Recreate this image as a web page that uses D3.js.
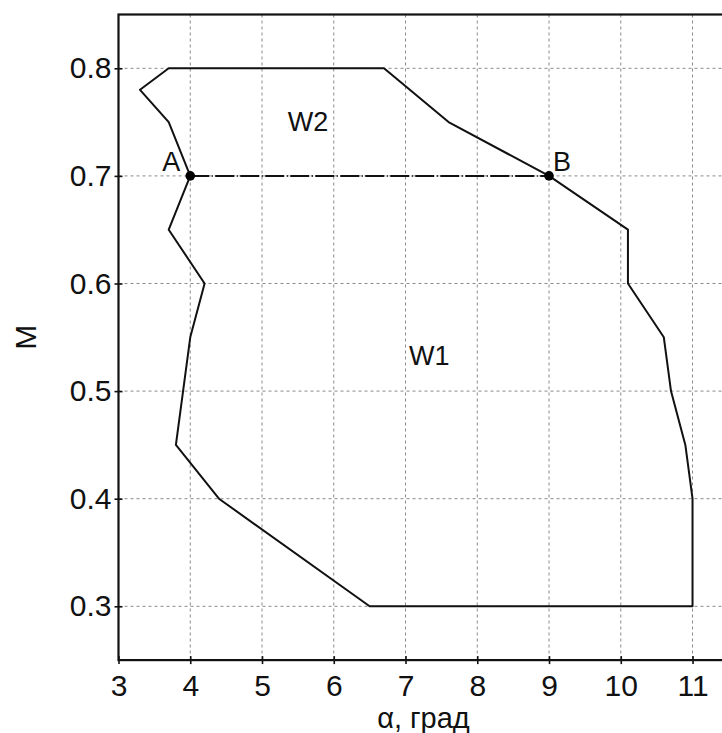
<!DOCTYPE html>
<html>
<head>
<meta charset="utf-8">
<script src="https://cdn.jsdelivr.net/npm/d3@7"></script>
<style>
  html, body { margin: 0; padding: 0; background: #fff; overflow: hidden; }
  svg { display: block; }
  text { font-family: "Liberation Sans", Arial, sans-serif; fill: #111; }
</style>
</head>
<body>
<svg id="chart" width="722" height="733"></svg>
<script>
// Boundary of the operating region (alpha in degrees, M)
const boundaryAlpha = [3.7, 6.7, 7.6, 9.0, 10.1, 10.1, 10.6, 10.7, 10.9, 11.0, 11.0, 6.5, 4.4, 3.8, 4.0, 4.2, 3.7, 4.0, 3.7, 3.3];
const boundaryM     = [0.8, 0.8, 0.75, 0.7, 0.65, 0.6, 0.55, 0.5, 0.45, 0.4, 0.3, 0.3, 0.4, 0.45, 0.55, 0.6, 0.65, 0.7, 0.75, 0.78];

// Points A and B joined by the dashed line at M = 0.7
const pointNames = ["A", "B"];
const pointAlpha = [4, 9];
const pointM = [0.7, 0.7];

// Region labels
const regionNames = ["W2", "W1"];
const regionAlpha = [5.64, 7.33];
const regionM = [0.75, 0.533];

const xTicks = [3, 4, 5, 6, 7, 8, 9, 10, 11];
const yTicks = [0.3, 0.4, 0.5, 0.6, 0.7, 0.8];
const xTitle = "α, град";
const yTitle = "M";

const svg = d3.select("#chart");
const x = d3.scaleLinear().domain([3, 11.5]).range([118.5, 728.4]);
const y = d3.scaleLinear().domain([0.25, 0.85]).range([660.1, 14.5]);
const [x0, x1] = x.range();
const [yb, yt] = y.range();

// grid
const grid = svg.append("g").attr("stroke", "#8a8a8a").attr("stroke-width", 1).attr("stroke-dasharray", "3,3");
grid.selectAll("line.v").data(xTicks.filter(d => d > 3)).join("line")
  .attr("x1", d => x(d)).attr("x2", d => x(d)).attr("y1", yt).attr("y2", yb);
grid.selectAll("line.h").data(yTicks).join("line")
  .attr("y1", d => y(d)).attr("y2", d => y(d)).attr("x1", x0).attr("x2", x1);

// region boundary
const pts = boundaryAlpha.map((a, i) => [x(a), y(boundaryM[i])]);
svg.append("path")
  .attr("d", d3.line().curve(d3.curveLinearClosed)(pts))
  .attr("fill", "none").attr("stroke", "#111").attr("stroke-width", 2)
  .attr("stroke-linejoin", "round");

// dashed line A-B
svg.append("line")
  .attr("x1", x(pointAlpha[0])).attr("x2", x(pointAlpha[1]))
  .attr("y1", y(pointM[0])).attr("y2", y(pointM[1]))
  .attr("stroke", "#111").attr("stroke-width", 2)
  .attr("stroke-dasharray", "19,2.5,1,2.5");

svg.selectAll("circle.pt").data(pointNames).join("circle")
  .attr("cx", (d, i) => x(pointAlpha[i])).attr("cy", (d, i) => y(pointM[i]))
  .attr("r", 4.8).attr("fill", "#000");

svg.selectAll("text.pt").data(pointNames).join("text")
  .attr("x", (d, i) => x(pointAlpha[i]) + (i === 0 ? -19 : 13))
  .attr("y", (d, i) => y(pointM[i]) - 5)
  .attr("text-anchor", "middle")
  .attr("font-size", 27)
  .text(d => d);

svg.selectAll("text.reg").data(regionNames).join("text")
  .attr("x", (d, i) => x(regionAlpha[i]))
  .attr("y", (d, i) => y(regionM[i]))
  .attr("text-anchor", "middle")
  .attr("dominant-baseline", "central")
  .attr("font-size", 27)
  .text(d => d);

// axes
const xAxis = svg.append("g").attr("transform", `translate(0,${yb})`)
  .call(d3.axisBottom(x).tickValues(xTicks).tickFormat(d3.format("d")).tickSize(4).tickPadding(11));
const yAxis = svg.append("g").attr("transform", `translate(${x0},0)`)
  .call(d3.axisLeft(y).tickValues(yTicks).tickFormat(d3.format(".1f")).tickSize(4).tickPadding(3));
[xAxis, yAxis].forEach(g => {
  g.select(".domain").remove();
  g.selectAll(".tick line").attr("stroke", "#111").attr("stroke-width", 1.6);
  g.selectAll(".tick text").attr("font-family", "Liberation Sans, Arial, sans-serif").attr("font-size", 30).attr("fill", "#111");
});
xAxis.selectAll(".tick line").attr("y1", -4).attr("y2", 4);
yAxis.selectAll(".tick line").attr("x1", -4).attr("x2", 4);

// frame
svg.append("rect")
  .attr("x", x0).attr("y", yt).attr("width", x1 - x0).attr("height", yb - yt)
  .attr("fill", "none").attr("stroke", "#111").attr("stroke-width", 2.2);

// titles
svg.append("text")
  .attr("x", (x0 + x1) / 2).attr("y", 728)
  .attr("text-anchor", "middle").attr("font-size", 29)
  .text(xTitle);
svg.append("text")
  .attr("transform", `translate(36,${(yt + yb) / 2}) rotate(-90)`)
  .attr("text-anchor", "middle").attr("font-size", 30)
  .text(yTitle);
</script>
</body>
</html>
